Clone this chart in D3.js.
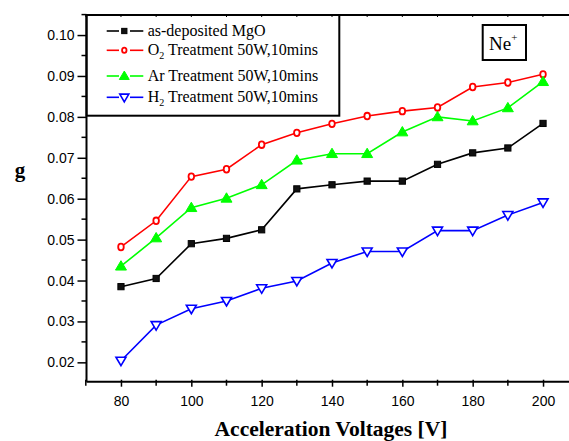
<!DOCTYPE html>
<html>
<head>
<meta charset="utf-8">
<script src="https://cdn.jsdelivr.net/npm/d3@7"></script>
<style>
  html, body { margin: 0; padding: 0; background: #fff; }
  svg { display: block; }
</style>
</head>
<body>
<script>
const voltages = [80, 90, 100, 110, 120, 130, 140, 150, 160, 170, 180, 190, 200];
const asDeposited = [0.0385, 0.0405, 0.0490, 0.0503, 0.0524, 0.0624, 0.0634, 0.0643, 0.0643, 0.0684, 0.0712, 0.0724, 0.0784];
const o2Treatment = [0.0482, 0.0546, 0.0654, 0.0672, 0.0732, 0.0761, 0.0783, 0.0802, 0.0814, 0.0823, 0.0873, 0.0884, 0.0904];
const arTreatment = [0.0435, 0.0504, 0.0578, 0.0601, 0.0634, 0.0694, 0.0710, 0.0710, 0.0763, 0.0800, 0.0790, 0.0822, 0.0886];
const h2Treatment = [0.0204, 0.0291, 0.0331, 0.0350, 0.0381, 0.0399, 0.0443, 0.0471, 0.0471, 0.0522, 0.0522, 0.0560, 0.0591];
const xTickLabels = [80, 100, 120, 140, 160, 180, 200];
const yTickLabels = [0.02, 0.03, 0.04, 0.05, 0.06, 0.07, 0.08, 0.09, 0.10];

const series = [
  {name: "as-deposited MgO", values: asDeposited, color: "#000000", marker: "square"},
  {name: "O2", values: o2Treatment, color: "#ff0000", marker: "circle"},
  {name: "Ar", values: arTreatment, color: "#00ff00", marker: "triUp"},
  {name: "H2", values: h2Treatment, color: "#0000ff", marker: "triDown"}
];

(function () {
const W = 569, H = 441;
const svg = d3.select("body").append("svg").attr("width", W).attr("height", H);

const x = d3.scaleLinear().domain([70, 210]).range([85.8, 578.2]);
const y = d3.scaleLinear().domain([0.015, 0.105]).range([382.8, 14.6]);
const pLeft = 86.5, pRight = x(210), pTop = 15, pBottom = 381.7;

// frame top line with tiny inward ticks
svg.append("line").attr("x1", pLeft).attr("x2", pRight).attr("y1", pTop).attr("y2", pTop)
  .attr("stroke", "#000").attr("stroke-width", 2);
const minorX = d3.range(70, 211, 10);
svg.selectAll(".topTick").data(minorX).join("line")
  .attr("x1", d => x(d)).attr("x2", d => x(d)).attr("y1", pTop).attr("y2", pTop + 2)
  .attr("stroke", "#000").attr("stroke-width", 1);
svg.append("line").attr("x1", pRight).attr("x2", pRight).attr("y1", pTop).attr("y2", pBottom)
  .attr("stroke", "#000").attr("stroke-width", 2);

// bottom axis
const xAxis = d3.axisBottom(x).tickValues(xTickLabels).tickSize(5).tickPadding(9).tickFormat(d3.format("d"));
const gx = svg.append("g").attr("transform", `translate(0,${pBottom})`).call(xAxis);
gx.select(".domain").attr("stroke-width", 2).attr("d", `M${pLeft},0H${pRight}`);
gx.selectAll(".tick line").attr("stroke-width", 1.5).attr("y1", -2);
gx.selectAll(".tick text").attr("font-family", "Liberation Sans, Arial, sans-serif").attr("font-size", 14).attr("fill", "#000");
gx.selectAll(".minor").data(minorX.filter(d => !xTickLabels.includes(d))).join("line")
  .attr("class", "minor")
  .attr("x1", d => x(d)).attr("x2", d => x(d)).attr("y1", -2).attr("y2", 4)
  .attr("stroke", "#000").attr("stroke-width", 1.5);

// left axis
const yAxis = d3.axisLeft(y).tickValues(yTickLabels).tickSize(9).tickPadding(3).tickFormat(d3.format(".2f"));
const gy = svg.append("g").attr("transform", `translate(${pLeft},0)`).call(yAxis);
gy.select(".domain").attr("stroke-width", 2).attr("d", `M0,${pTop}V${pBottom}`);
gy.selectAll(".tick line").attr("stroke-width", 1.5);
gy.selectAll(".tick text").attr("font-family", "Liberation Sans, Arial, sans-serif").attr("font-size", 14).attr("fill", "#000");
const minorY = d3.range(0.025, 0.1051, 0.01);
gy.selectAll(".minor").data(minorY).join("line")
  .attr("class", "minor")
  .attr("x1", -5).attr("x2", 0).attr("y1", d => y(d)).attr("y2", d => y(d))
  .attr("stroke", "#000").attr("stroke-width", 1.5);

// axis titles
svg.append("text").attr("x", 331).attr("y", 435.5).attr("text-anchor", "middle")
  .attr("font-family", "Liberation Serif, Times New Roman, serif").attr("font-weight", "bold")
  .attr("font-size", 21.5).text("Acceleration Voltages [V]");
svg.append("text").attr("x", 20).attr("y", 177).attr("text-anchor", "middle")
  .attr("font-family", "Liberation Serif, Times New Roman, serif").attr("font-weight", "bold")
  .attr("font-size", 21).text("g");

// markers
function drawMarker(g, type, color, cx, cy, s) {
  if (type === "square") {
    g.append("rect").attr("x", cx - s * 3.1).attr("y", cy - s * 3.1).attr("width", s * 6.2).attr("height", s * 6.2)
      .attr("fill", "#111").attr("stroke", "#000").attr("stroke-width", 1);
  } else if (type === "circle") {
    g.append("ellipse").attr("cx", cx).attr("cy", cy).attr("rx", s * 2.8).attr("ry", s * 3.3)
      .attr("fill", "#fff").attr("stroke", color).attr("stroke-width", 1.8);
  } else if (type === "triUp") {
    const r = s * 5.5;
    g.append("path").attr("d", `M${cx},${cy - r}L${cx + r},${cy + r * 0.7}L${cx - r},${cy + r * 0.7}Z`)
      .attr("fill", color).attr("stroke", color).attr("stroke-width", 1);
  } else if (type === "triDown") {
    const r = s * 5;
    g.append("path").attr("d", `M${cx},${cy + r}L${cx + r},${cy - r * 0.7}L${cx - r},${cy - r * 0.7}Z`)
      .attr("fill", "#fff").attr("stroke", color).attr("stroke-width", 1.6);
  }
}

const line = d3.line().x(d => x(d[0])).y(d => y(d[1]));
const plot = svg.append("g");
series.forEach(s => {
  const pts = voltages.map((v, i) => [v, s.values[i]]);
  plot.append("path").attr("d", line(pts)).attr("fill", "none").attr("stroke", s.color).attr("stroke-width", 1.6);
});
series.forEach(s => {
  voltages.forEach((v, i) => drawMarker(plot, s.marker, s.color, x(v), y(s.values[i]), 1));
});

// legend box
svg.append("rect").attr("x", pLeft).attr("y", pTop).attr("width", 339.3 - pLeft).attr("height", 115.7 - pTop)
  .attr("fill", "none").attr("stroke", "#000").attr("stroke-width", 2);
const legRows = [31, 50.3, 76, 97.3];
const legFont = "Liberation Serif, Times New Roman, serif";
series.forEach((s, i) => {
  const ly = legRows[i];
  svg.append("line").attr("x1", 106.7).attr("x2", 119).attr("y1", ly).attr("y2", ly).attr("stroke", s.color).attr("stroke-width", 1.6);
  svg.append("line").attr("x1", 130).attr("x2", 143.3).attr("y1", ly).attr("y2", ly).attr("stroke", s.color).attr("stroke-width", 1.6);
  drawMarker(svg, s.marker, s.color, 124.3, ly, s.marker === "circle" ? 0.8 : (s.marker === "square" ? 0.85 : 0.9));
  const t = svg.append("text").attr("x", 147.7).attr("y", ly + 5).attr("font-family", legFont).attr("font-size", 16).attr("fill", "#000");
  if (s.name === "O2" || s.name === "H2") {
    t.append("tspan").text(s.name[0]);
    t.append("tspan").attr("font-size", 10).attr("dy", 4).text("2");
    t.append("tspan").attr("dy", -4).text(" Treatment 50W,10mins");
  } else if (s.name === "Ar") {
    t.text("Ar Treatment 50W,10mins");
  } else {
    t.text(s.name);
  }
});

// Ne+ box
svg.append("rect").attr("x", 482.7).attr("y", 25).attr("width", 43.3).attr("height", 35)
  .attr("fill", "none").attr("stroke", "#000").attr("stroke-width", 2);
const ne = svg.append("text").attr("x", 489).attr("y", 50).attr("font-family", legFont).attr("font-size", 19).attr("fill", "#000");
ne.append("tspan").text("Ne");
ne.append("tspan").attr("font-size", 11).attr("dy", -9).text("+");
})();
</script>
</body>
</html>
